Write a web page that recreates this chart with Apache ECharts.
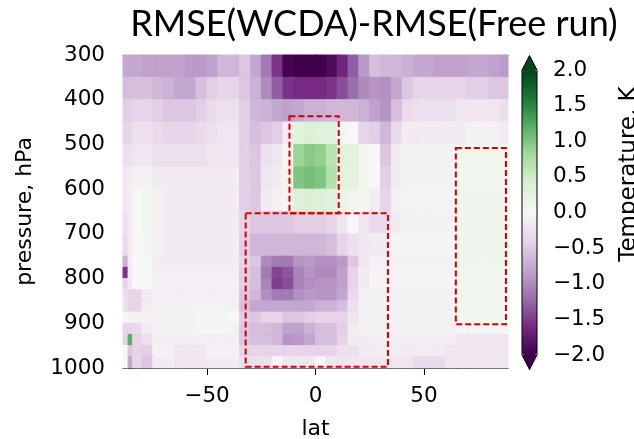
<!DOCTYPE html>
<html>
<head>
<meta charset="utf-8">
<script src="https://cdn.jsdelivr.net/npm/echarts@6/dist/echarts.min.js"></script>
<style>
html, body { margin: 0; padding: 0; background: #fff; }
#chart { width: 634px; height: 439px; }
</style>
</head>
<body>
<div id="chart"></div>
<script>
// cell edges (latitude in degrees, pressure in hPa)
var latEdges = [-88.75, -86.4, -84.3, -80, -75, -70, -65, -60, -55, -50, -45, -40, -35, -30, -25, -20, -15, -10, -5,
    0, 5, 10, 15, 20, 25, 30, 35, 40, 45, 50, 55, 60, 65, 70, 75, 80, 85, 88.75];
var pEdges = [300, 350, 400, 450, 500, 550, 600, 650, 700, 750, 775, 800, 825, 850, 875, 900, 925, 950, 975, 1000];

// RMSE difference (K), one list per pressure layer, south -> north
var row300 = [-0.78, -0.78, -0.78, -0.83, -0.83, -0.83, -0.83, -0.88, -0.88, -0.83, -0.65, -0.65,
    -0.52, -0.78, -1.12, -1.55, -1.95, -2.05, -2.05, -2.05, -1.9, -1.65,
    -1.3, -0.88, -0.58, -0.65, -0.65, -0.7, -0.78, -0.78, -0.83, -0.83,
    -0.83, -0.78, -0.78, -0.83, -0.88];
var row350 = [-0.58, -0.58, -0.58, -0.58, -0.65, -0.7, -0.78, -0.78, -0.58, -0.45, -0.4, -0.4,
    -0.52, -0.7, -1.0, -1.3, -1.55, -1.6, -1.6, -1.6, -1.55, -1.4,
    -1.2, -1.0, -0.92, -0.96, -0.78, -0.52, -0.4, -0.4, -0.4, -0.4,
    -0.4, -0.45, -0.45, -0.52, -0.52];
var row400 = [-0.45, -0.45, -0.4, -0.4, -0.45, -0.52, -0.52, -0.52, -0.45, -0.33, -0.26, -0.26,
    -0.45, -0.65, -0.7, -0.78, -0.83, -0.78, -0.7, -0.7, -0.65, -0.65,
    -0.65, -0.7, -0.83, -0.92, -0.58, -0.33, -0.26, -0.26, -0.26, -0.26,
    -0.2, -0.2, -0.2, -0.2, -0.26];
var row450 = [-0.4, -0.4, -0.26, -0.26, -0.33, -0.4, -0.4, -0.4, -0.33, -0.26, -0.2, -0.2,
    -0.45, -0.58, -0.52, -0.45, -0.13, 0.3, 0.35, 0.3, 0.3, 0.05,
    0.0, -0.4, -0.45, -0.65, -0.33, -0.13, -0.13, -0.13, -0.13, -0.13,
    -0.13, -0.07, -0.07, -0.07, -0.13];
var row500 = [-0.26, -0.26, -0.2, -0.2, -0.26, -0.26, -0.26, -0.26, -0.26, -0.2, -0.2, -0.2,
    -0.45, -0.52, -0.26, -0.2, 0.05, 0.85, 0.95, 0.9, 0.65, 0.3,
    0.25, 0.1, 0.0, -0.52, -0.13, -0.07, -0.07, -0.07, -0.07, -0.07,
    0.1, 0.1, 0.1, 0.1, 0.1];
var row550 = [-0.2, -0.13, -0.07, -0.07, -0.13, -0.13, -0.15, -0.15, -0.15, -0.15, -0.13, -0.13,
    -0.45, -0.52, -0.2, -0.13, 0.1, 1.0, 1.05, 1.0, 0.7, 0.3,
    0.25, 0.1, 0.0, -0.45, -0.13, -0.07, -0.07, -0.07, -0.07, -0.07,
    0.1, 0.1, 0.1, 0.1, 0.1];
var row600 = [-0.2, -0.13, 0.0, 0.1, -0.07, -0.13, -0.13, -0.13, -0.13, -0.13, -0.13, -0.13,
    -0.45, -0.52, -0.13, -0.07, 0.05, 0.35, 0.4, 0.35, 0.3, 0.15,
    0.1, 0.05, -0.13, -0.4, -0.07, -0.05, -0.05, -0.05, -0.05, -0.05,
    0.12, 0.12, 0.12, 0.12, 0.12];
var row650 = [-0.26, -0.13, 0.0, 0.1, -0.07, -0.13, -0.13, -0.13, -0.13, -0.13, -0.13, -0.13,
    -0.4, -0.52, -0.52, -0.52, -0.52, -0.45, -0.45, -0.45, -0.4, -0.2,
    0.0, -0.2, -0.33, -0.33, -0.13, -0.07, -0.07, -0.07, -0.07, -0.07,
    0.12, 0.12, 0.12, 0.12, 0.12];
var row700 = [-0.33, -0.13, 0.0, 0.05, -0.07, -0.13, -0.13, -0.13, -0.13, -0.13, -0.13, -0.13,
    -0.45, -0.65, -0.65, -0.65, -0.65, -0.65, -0.65, -0.65, -0.58, -0.4,
    -0.26, -0.2, -0.13, -0.13, -0.05, -0.05, -0.05, -0.05, -0.05, -0.05,
    0.12, 0.12, 0.12, 0.12, 0.12];
var row750 = [-0.7, -0.13, 0.0, 0.0, -0.13, -0.13, -0.13, -0.13, -0.13, -0.13, -0.13, -0.13,
    -0.4, -0.52, -1.0, -1.12, -1.12, -0.92, -0.88, -0.96, -0.96, -0.88,
    -0.52, -0.2, -0.07, -0.07, -0.07, -0.07, -0.07, -0.07, -0.07, -0.07,
    0.12, 0.12, 0.12, 0.12, 0.12];
var row775 = [-1.55, -0.13, 0.0, 0.0, -0.1, -0.1, -0.1, -0.1, -0.1, -0.1, -0.1, -0.1,
    -0.45, -0.58, -1.12, -1.45, -1.35, -1.05, -0.92, -1.0, -1.0, -0.83,
    -0.4, -0.13, -0.05, -0.05, -0.05, -0.05, -0.05, -0.05, -0.05, -0.05,
    0.1, 0.1, 0.1, 0.1, 0.1];
var row800 = [-0.4, -0.2, 0.0, 0.0, -0.07, -0.07, -0.07, -0.07, -0.07, -0.07, -0.07, -0.07,
    -0.45, -0.58, -1.05, -1.5, -1.4, -1.05, -0.96, -0.92, -0.92, -0.83,
    -0.4, -0.13, -0.05, -0.05, -0.05, -0.05, -0.05, -0.05, -0.05, -0.05,
    0.1, 0.1, 0.1, 0.1, 0.1];
var row825 = [-0.26, -0.4, -0.4, -0.13, -0.1, -0.1, -0.1, -0.1, -0.1, -0.1, -0.1, -0.1,
    -0.52, -0.65, -0.96, -1.12, -1.12, -0.96, -0.88, -0.92, -0.92, -0.78,
    -0.33, -0.07, -0.07, -0.07, -0.07, -0.07, -0.07, -0.07, -0.07, -0.07,
    0.1, 0.1, 0.1, 0.1, 0.1];
var row850 = [-0.26, -0.4, -0.4, -0.13, -0.07, -0.07, -0.07, -0.07, -0.07, -0.07, -0.07, -0.07,
    -0.58, -0.78, -0.78, -0.78, -0.78, -0.78, -0.78, -0.7, -0.7, -0.58,
    -0.26, -0.07, -0.07, -0.07, -0.07, -0.07, -0.07, -0.07, -0.07, -0.07,
    0.08, 0.08, 0.08, 0.08, 0.08];
var row875 = [0.0, -0.07, -0.07, -0.07, -0.07, -0.07, -0.07, -0.07, 0.05, 0.05, 0.05, 0.0,
    -0.45, -0.52, -0.4, -0.4, -0.52, -0.52, -0.45, -0.4, -0.4, -0.4,
    -0.2, -0.07, -0.07, -0.07, -0.07, -0.07, -0.07, -0.07, -0.07, -0.07,
    0.08, 0.08, 0.08, 0.08, 0.08];
var row900 = [-0.4, -0.4, -0.33, -0.13, -0.07, -0.07, -0.07, -0.07, 0.05, 0.05, 0.05, -0.07,
    -0.52, -0.58, -0.58, -0.65, -0.83, -0.83, -0.7, -0.58, -0.58, -0.45,
    -0.13, -0.07, -0.07, -0.07, -0.07, -0.07, -0.07, -0.07, -0.07, -0.07,
    -0.05, -0.05, -0.05, -0.05, -0.05];
var row925 = [-0.4, 1.2, -0.4, -0.26, -0.1, -0.1, -0.1, -0.1, -0.1, -0.1, -0.1, -0.1,
    -0.52, -0.58, -0.58, -0.65, -0.92, -0.88, -0.78, -0.58, -0.58, -0.4,
    -0.13, -0.13, -0.1, -0.1, -0.1, -0.1, -0.1, -0.1, -0.1, -0.1,
    -0.2, -0.2, -0.2, -0.2, -0.2];
var row950 = [0.0, -0.52, -0.4, -0.45, -0.07, -0.07, -0.2, -0.2, -0.2, -0.07, -0.07, -0.07,
    -0.4, -0.4, -0.4, -0.4, -0.4, -0.4, -0.4, -0.4, -0.4, -0.26,
    -0.26, -0.13, -0.13, -0.13, -0.13, -0.13, -0.13, -0.13, -0.13, -0.2,
    -0.2, -0.2, -0.2, -0.2, -0.2];
var row975 = [0.0, -0.78, -0.4, -0.52, -0.13, -0.13, -0.2, -0.2, -0.2, -0.13, -0.13, -0.13,
    -0.26, -0.26, -0.26, 0.0, -0.2, -0.2, -0.2, 0.0, -0.2, -0.2,
    -0.2, -0.2, -0.2, -0.2, -0.2, -0.2, -0.33, -0.33, -0.33, -0.2,
    -0.2, -0.2, -0.2, -0.2, -0.2];

var rows = [row300, row350, row400, row450, row500, row550, row600, row650, row700, row750,
    row775, row800, row825, row850, row875, row900, row925, row950, row975];

// highlighted regions: [lat from, lat to, p top, p bottom]
var boxes = [
    [-12, 10.7, 437, 654],
    [-32.2, 33.4, 654, 997],
    [64.7, 87.8, 508, 902]
];

var latTicks = [-50, 0, 50];
var prgn = ['#40004b', '#762a83', '#9970ab', '#c2a5cf', '#e7d4e8', '#f7f7f7',
    '#d9f0d3', '#a6dba0', '#5aae61', '#1b7837', '#00441b'];

var cells = [];
rows.forEach(function (row, j) {
    row.forEach(function (v, i) {
        cells.push([latEdges[i], latEdges[i + 1], pEdges[j], pEdges[j + 1], v]);
    });
});

function minusSign(s) {
    return String(s).replace('-', '\u2212');
}

function rectOf(params, api) {
    var a = api.coord([api.value(0), api.value(2)]);
    var b = api.coord([api.value(1), api.value(3)]);
    return {
        x: Math.min(a[0], b[0]), y: Math.min(a[1], b[1]),
        width: Math.abs(b[0] - a[0]), height: Math.abs(b[1] - a[1])
    };
}

var font = 'DejaVu Sans';
var axisText = { color: '#000', fontFamily: font, fontSize: 21.5 };

// colour bar frame (pixels)
var cbL = 522, cbT = 70, cbW = 15, cbH = 285, cbTri = 14.5;

var option = {
    animation: false,
    title: {
        text: 'RMSE(WCDA)-RMSE(Free run)',
        left: 374, top: 6, padding: 0,
        textAlign: 'center',
        textStyle: { fontFamily: 'Lato', fontSize: 36, fontWeight: 'normal', color: '#000' }
    },
    grid: [
        { left: 123, top: 55, width: 385, height: 313, outerBoundsMode: 'none' },
        { left: cbL, top: cbT, width: cbW, height: cbH, outerBoundsMode: 'none' }
    ],
    xAxis: [{
        gridIndex: 0, type: 'value', min: -88.75, max: 88.75,
        name: 'lat', nameLocation: 'middle', nameGap: 50,
        nameTextStyle: { color: '#000', fontFamily: font, fontSize: 22 },
        axisLine: { show: true, lineStyle: { color: '#000', width: 1 } },
        axisTick: { show: true, customValues: latTicks, length: 7, lineStyle: { color: '#000' } },
        axisLabel: Object.assign({ customValues: latTicks, margin: 17, formatter: minusSign }, axisText),
        splitLine: { show: false }
    }, {
        gridIndex: 0, type: 'value', position: 'top', min: -88.75, max: 88.75,
        axisLine: { show: true, lineStyle: { color: '#000', width: 1 } },
        axisTick: { show: false }, axisLabel: { show: false }, splitLine: { show: false }
    }, {
        gridIndex: 1, type: 'value', show: false, min: 0, max: 1
    }],
    yAxis: [{
        gridIndex: 0, type: 'value', inverse: true, min: 300, max: 1000, interval: 100,
        name: 'pressure, hPa', nameLocation: 'middle', nameGap: 87,
        nameTextStyle: { color: '#000', fontFamily: font, fontSize: 22 },
        axisLine: { show: true, lineStyle: { color: '#000', width: 1 } },
        axisTick: { show: true, length: 8, lineStyle: { color: '#000' } },
        axisLabel: Object.assign({ margin: 18, formatter: function (v) { return String(v); } }, axisText),
        splitLine: { show: false }
    }, {
        gridIndex: 0, type: 'value', position: 'right', inverse: true, min: 300, max: 1000,
        axisLine: { show: true, lineStyle: { color: '#000', width: 1 } },
        axisTick: { show: false }, axisLabel: { show: false }, splitLine: { show: false }
    }, {
        gridIndex: 1, type: 'value', position: 'right', min: -2, max: 2, interval: 0.5,
        axisLine: { show: false },
        axisTick: { show: true, length: 5, lineStyle: { color: '#000' } },
        axisLabel: Object.assign({
            margin: 16, formatter: function (v) { return minusSign(v.toFixed(1)); }
        }, axisText),
        splitLine: { show: false }
    }],
    visualMap: {
        type: 'continuous', min: -2, max: 2, dimension: 4, seriesIndex: 0,
        orient: 'vertical', left: cbL, top: cbT, itemWidth: cbW, itemHeight: cbH,
        padding: 0, calculable: false, hoverLink: false, text: null,
        inRange: { color: prgn }
    },
    series: [{
        type: 'custom', xAxisIndex: 0, yAxisIndex: 0,
        encode: { x: [0, 1], y: [2, 3] },
        data: cells,
        renderItem: function (params, api) {
            var cs = params.coordSys;
            var shape = echarts.graphic.clipRectByRect(rectOf(params, api),
                { x: cs.x, y: cs.y, width: cs.width, height: cs.height });
            var c = api.visual('color');
            return shape && { type: 'rect', shape: shape, style: { fill: c, stroke: c, lineWidth: 1 } };
        }
    }, {
        type: 'custom', xAxisIndex: 0, yAxisIndex: 0, z: 5,
        encode: { x: [0, 1], y: [2, 3] },
        data: boxes,
        renderItem: function (params, api) {
            return {
                type: 'rect', shape: rectOf(params, api),
                style: { fill: 'none', stroke: '#d40000', lineWidth: 2, lineDash: [6, 3] }
            };
        }
    }],
    graphic: [{
        type: 'polygon', z: 100,
        shape: { points: [[cbL, cbT], [cbL + cbW / 2, cbT - cbTri], [cbL + cbW, cbT]] },
        style: { fill: prgn[10] }
    }, {
        type: 'polygon', z: 100,
        shape: { points: [[cbL, cbT + cbH], [cbL + cbW / 2, cbT + cbH + cbTri], [cbL + cbW, cbT + cbH]] },
        style: { fill: prgn[0] }
    }, {
        type: 'polygon', z: 101,
        shape: { points: [[cbL, cbT], [cbL + cbW / 2, cbT - cbTri], [cbL + cbW, cbT],
            [cbL + cbW, cbT + cbH], [cbL + cbW / 2, cbT + cbH + cbTri], [cbL, cbT + cbH]] },
        style: { fill: 'none', stroke: '#000', lineWidth: 1 }
    }, {
        type: 'text', z: 100, x: 641, y: 174, rotation: Math.PI / 2,
        style: { text: 'Temperature, K', font: '23px "DejaVu Sans"', fill: '#000', align: 'center', verticalAlign: 'bottom' }
    }]
};

var myChart = echarts.init(document.getElementById('chart'));
myChart.setOption(option);
</script>
</body>
</html>
